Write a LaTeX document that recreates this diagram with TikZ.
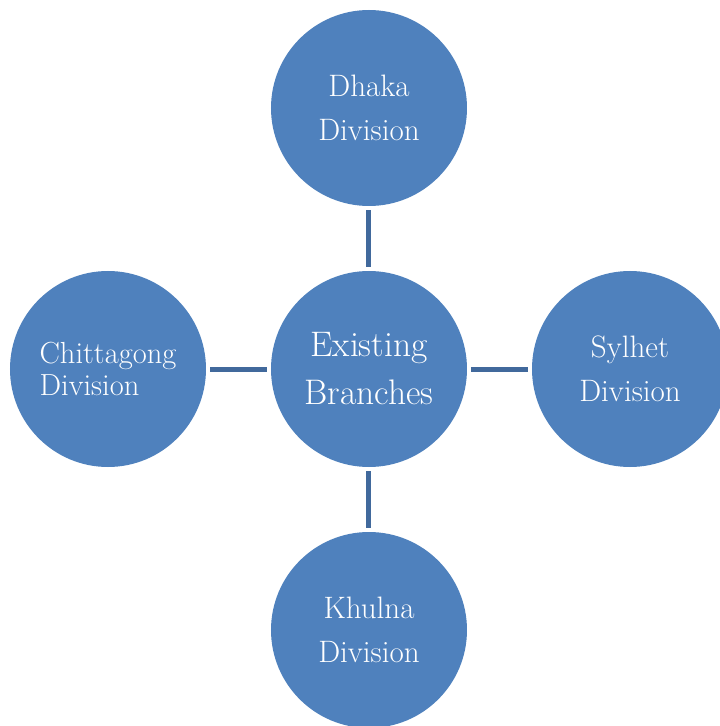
\documentclass[tikz,border=0pt]{standalone}
\usepackage{fontspec}
\usetikzlibrary{positioning}
\definecolor{branchfill}{HTML}{4F81BD}
\definecolor{branchline}{HTML}{41699C}
\tikzset{
  division/.style={circle, fill=branchfill, text=white, minimum size=196pt,
    inner sep=0pt, outer sep=4pt, align=center,
    font=\fontsize{31}{44}\selectfont},
  link/.style={draw=branchline, line width=5pt}
}
\begin{document}
\begin{tikzpicture}[x=1pt,y=1pt]
      \useasboundingbox (-369,-357) rectangle (351,369);
      \clip (-369,-357) rectangle (351,369);
      \draw
        (0,0) node[division, font=\fontsize{35.5}{48}\selectfont] (branches){Existing\\Branches}
        (0.0:261) node[division] (sylhet){Sylhet\\Division}
        (90.0:261) node[division] (dhaka){Dhaka\\Division}
        (180.0:261) node[division, align=left, font=\fontsize{30.5}{32}\selectfont] (chittagong){Chittagong\\Division}
        (270.0:261) node[division] (khulna){Khulna\\Division};
      \begin{scope}[link]
        \draw (branches) to (dhaka);
        \draw (branches) to (sylhet);
        \draw (branches) to (khulna);
        \draw (branches) to (chittagong);
      \end{scope}
    \end{tikzpicture}
\end{document}
